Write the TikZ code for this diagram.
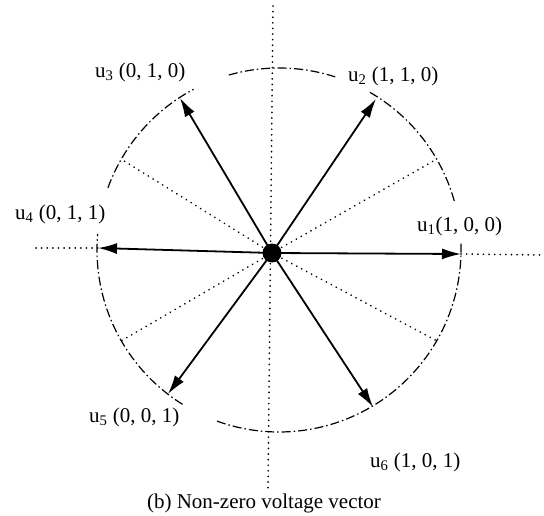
\documentclass[tikz,border=0pt]{standalone}
\usepackage{fontspec}
\setmainfont{Liberation Serif}
\usetikzlibrary{arrows.meta}
\begin{document}
\begin{tikzpicture}[x=1pt,y=-1pt,
  vec/.style={line width=1.8pt, -{Latex[length=19pt,width=11pt]}},
  guide/.style={line width=1.8pt, line cap=round, dash pattern=on 0.1pt off 5.5pt},
  rim/.style={line width=1.2pt, dash pattern=on 9pt off 3pt on 1.5pt off 3pt},
  lbl/.style={font=\fontsize{21}{24}\selectfont, inner sep=0pt, anchor=west}]
\useasboundingbox (0,0) rectangle (544,516);
% circle (centre 279,250, radius 182), broken at the labels
\coordinate (o) at (279,250);
\draw[rim] ([shift={(-106:182)}]o) arc[start angle=-106, end angle=-72, radius=182];
\draw[rim] ([shift={(-60:182)}]o) arc[start angle=-60, end angle=-15, radius=182];
\draw[rim] ([shift={(-2:182)}]o) arc[start angle=-2, end angle=110, radius=182];
\draw[rim] ([shift={(122:182)}]o) arc[start angle=122, end angle=185, radius=182];
\draw[rim] ([shift={(200:182)}]o) arc[start angle=200, end angle=242, radius=182];
% centre dot
\node[circle, fill, inner sep=0pt, minimum size=19pt] (c) at (272,253) {};
% guide lines
\coordinate (vt) at (273,6);
\coordinate (vb) at (268,490);
\coordinate (hl) at (36,248);
\coordinate (hr) at (541,255);
\coordinate (d1) at (437,159);
\coordinate (d2) at (121,159);
\coordinate (d3) at (121,341);
\coordinate (d4) at (437,341);
\draw[guide] (vt) -- (vb);
\draw[guide] (c.center) -- (d1);
\draw[guide] (c.center) -- (d2);
\draw[guide] (c.center) -- (d3);
\draw[guide] (c.center) -- (d4);
% vector tips
\coordinate (t1) at (461,254);
\coordinate (t2) at (376,99);
\coordinate (t3) at (180,98);
\coordinate (t4) at (98,248);
\coordinate (t5) at (168,394);
\coordinate (t6) at (373,407);
\draw[guide] (hl) -- (t4);
\draw[guide] (t1) -- (hr);
\foreach \t in {t1,t2,t3,t4,t5,t6} \draw[vec] (c.center) -- (\t);
% labels
\node[lbl] (l1) at (417,226) {u\textsubscript{1}(1, 0, 0)};
\node[lbl] (l2) at (348,76) {u\textsubscript{2} (1, 1, 0)};
\node[lbl] (l3) at (95,72) {u\textsubscript{3} (0, 1, 0)};
\node[lbl] (l4) at (15,214) {u\textsubscript{4} (0, 1, 1)};
\node[lbl] (l5) at (89,417) {u\textsubscript{5} (0, 0, 1)};
\node[lbl] (l6) at (370,462) {u\textsubscript{6} (1, 0, 1)};
\node[font=\fontsize{21}{24}\selectfont, inner sep=0pt] (cap) at (264,503) {(b) Non-zero voltage vector};
\end{tikzpicture}
\end{document}
